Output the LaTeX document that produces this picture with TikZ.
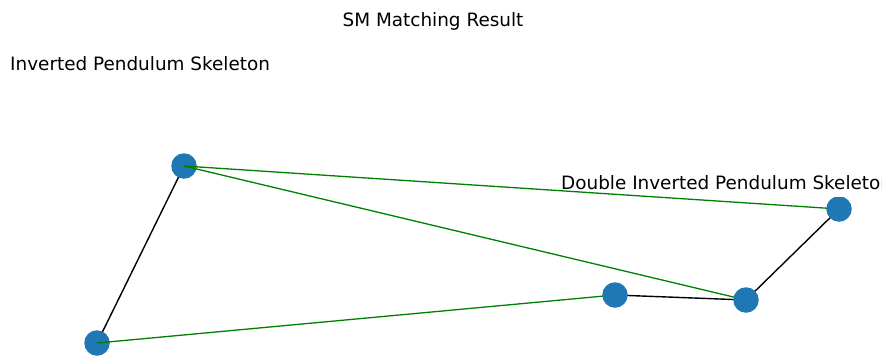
\documentclass[tikz,border=0pt]{standalone}
\usepackage{fontspec}
\setmainfont{DejaVu Sans}
\definecolor{nodeblue}{HTML}{1F77B4}
\definecolor{mplgreen}{HTML}{008000}
\tikzset{
  gnode/.style={circle,fill=nodeblue,draw=none,minimum size=25.5pt,inner sep=0pt},
  skel/.style={draw=black,line width=1.4pt},
  match/.style={draw=mplgreen,line width=1.3pt},
  lbl/.style={font=\fontsize{18.4}{22}\selectfont,inner sep=0pt,anchor=base west}
}
\begin{document}
\begin{tikzpicture}[x=1pt,y=-1pt]
\useasboundingbox (0,0) rectangle (882,356);
\node[lbl,anchor=base] (title) at (433,26) {SM Matching Result};
\node[lbl] (ltitle) at (10,70) {Inverted Pendulum Skeleton};
\begin{scope}
\clip (0,0) rectangle (882,356);
\node[lbl] (rtitle) at (561,189) {Double Inverted Pendulum Skeleton};
\end{scope}
% node coordinates
\coordinate (pa) at (184,166);
\coordinate (pb) at (97,343);
\coordinate (pc) at (615,295);
\coordinate (pd) at (746,300);
\coordinate (pe) at (839,209);
% skeleton edges
\draw[skel] (pa) -- (pb);
\draw[skel] (pc) -- (pd);
\draw[skel] (pd) -- (pe);
% left nodes
\node[gnode] (a) at (pa) {};
\node[gnode] (b) at (pb) {};
% matching lines
\draw[match] (pa) -- (pe);
\draw[match] (pa) -- (pd);
\draw[match] (pb) -- (pc);
% right nodes (clipped by right axes)
\begin{scope}
\clip (540,197.5) rectangle (882,312.5);
\node[gnode] (c) at (pc) {};
\node[gnode] (d) at (pd) {};
\node[gnode] (e) at (pe) {};
\end{scope}
\end{tikzpicture}
\end{document}
